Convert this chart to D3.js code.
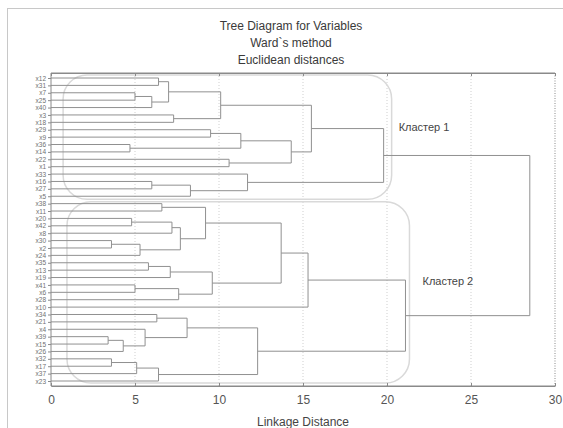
<!DOCTYPE html>
<html>
<head>
<meta charset="utf-8">
<script src="https://cdn.jsdelivr.net/npm/d3@7"></script>
<style>
  body { margin: 0; background: #fff; }
  text { font-family: "Liberation Sans", Arial, sans-serif; }
</style>
</head>
<body>
<div id="chart"></div>
<script>
// chart data
let titleLines = ["Tree Diagram for  Variables", "Ward`s method", "Euclidean distances"];
let xTicks = [0, 5, 10, 15, 20, 25, 30];
let xLabel = "Linkage Distance";
let clusterNames = ["Кластер 1", "Кластер 2"];

// leaves, top to bottom
let leafNames = [
    "x12", "x31", "x7", "x25", "x40", "x3", "x18", "x29", "x9", "x36", "x14",
    "x22", "x1", "x33", "x16", "x27", "x5", "x38", "x11", "x20", "x42", "x8",
    "x30", "x2", "x24", "x35", "x13", "x19", "x41", "x6", "x28", "x10", "x34",
    "x21", "x4", "x39", "x15", "x26", "x32", "x17", "x37", "x23"
];

// merges: [left, right, linkage distance]; index >= 42 points to merge (index - 42)
let merges = [
    [0, 1, 6.4], [2, 3, 5.0], [43, 4, 6.0], [42, 44, 7.0], [5, 6, 7.3],
    [45, 46, 10.1], [7, 8, 9.5], [9, 10, 4.7], [48, 49, 11.3], [11, 12, 10.6],
    [50, 51, 14.3], [47, 52, 15.5], [14, 15, 6.0], [54, 16, 8.3], [13, 55, 11.7],
    [53, 56, 19.8],
    [17, 18, 6.6], [19, 20, 4.8], [59, 21, 7.2], [22, 23, 3.6], [61, 24, 5.3],
    [60, 62, 7.7], [58, 63, 9.2], [25, 26, 5.8], [65, 27, 7.1], [28, 29, 5.0],
    [67, 30, 7.6], [66, 68, 9.6], [64, 69, 13.7], [70, 31, 15.3], [32, 33, 6.3],
    [35, 36, 3.4], [73, 37, 4.3], [34, 74, 5.6], [72, 75, 8.1], [38, 39, 3.6],
    [77, 40, 5.1], [78, 41, 6.4], [76, 79, 12.3], [71, 80, 21.1],
    [57, 81, 28.5]
];

let svgWidth = 563;
let svgHeight = 428;
let plot = { left: 51, right: 555, top: 73, bottom: 386 };

let svg = d3.select("#chart")
    .append("svg")
    .attr("width", svgWidth)
    .attr("height", svgHeight);

// outer frame
svg.append("rect")
    .attr("x", 7.5).attr("y", 8.5)
    .attr("width", 600).attr("height", 500)
    .attr("fill", "none")
    .attr("stroke", "#c8c8c8");

// build the tree
let nodes = leafNames.map(n => ({ name: n, height: 0 }));
merges.forEach((m, i) => {
    nodes.push({ name: "m" + i, height: m[2], children: [nodes[m[0]], nodes[m[1]]] });
});
let root = d3.hierarchy(nodes[nodes.length - 1]);

let xScale = d3.scaleLinear().domain([0, 30]).range([plot.left, plot.right]);
let yScale = d3.scalePoint()
    .domain(root.leaves().map(d => d.data.name))
    .range([78, 381]);

root.eachAfter(d => {
    d.px = xScale(d.data.height);
    d.py = d.children ? (d.children[0].py + d.children[1].py) / 2 : yScale(d.data.name);
});

// grid
svg.append("g").selectAll("line")
    .data(xTicks.slice(1, -1))
    .enter()
    .append("line")
    .attr("x1", d => xScale(d)).attr("x2", d => xScale(d))
    .attr("y1", plot.top).attr("y2", plot.bottom)
    .attr("stroke", "#cfcfcf")
    .attr("stroke-dasharray", "1,2");

// cluster outlines
let clusters = root.children;
let boxPad = [{ l: 0.72, r: 8, t: 3, b: 3 }, { l: 0.95, r: 4, t: 2, b: 2 }];
clusters.forEach((c, i) => {
    let lv = c.leaves();
    let x0 = xScale(boxPad[i].l);
    let x1 = c.px + boxPad[i].r;
    let y0 = lv[0].py - boxPad[i].t;
    let y1 = lv[lv.length - 1].py + boxPad[i].b;
    svg.append("rect")
        .attr("x", x0).attr("y", y0)
        .attr("width", x1 - x0).attr("height", y1 - y0)
        .attr("rx", 24).attr("ry", 24)
        .attr("fill", "none")
        .attr("stroke", "#d9d9d9")
        .attr("stroke-width", 1.5);
});

// dendrogram links
let linkGroup = svg.append("g")
    .attr("fill", "none")
    .attr("stroke", "#909090")
    .attr("stroke-width", 1);

root.descendants().filter(d => d.children).forEach(d => {
    let a = d.children[0], b = d.children[1];
    linkGroup.append("path")
        .attr("d", `M${a.px},${a.py}H${d.px}V${b.py}H${b.px}`);
});

// axes
let bottomAxis = d3.axisBottom(xScale).tickValues(xTicks).tickSizeInner(-3).tickSizeOuter(0).tickPadding(9);
let topAxis = d3.axisTop(xScale).tickValues(xTicks).tickSizeInner(-3).tickSizeOuter(0).tickFormat("");
let leftAxis = d3.axisLeft(yScale).tickSizeInner(3).tickSizeOuter(0).tickPadding(2);

let xaxis = svg.append("g")
    .attr("transform", `translate(0, ${plot.bottom})`)
    .call(bottomAxis);
xaxis.selectAll("text").attr("font-size", "12px").attr("fill", "#555");

svg.append("g")
    .attr("transform", `translate(0, ${plot.top})`)
    .call(topAxis);

let yaxis = svg.append("g")
    .attr("transform", `translate(${plot.left}, 0)`)
    .call(leftAxis);
yaxis.selectAll("text").attr("font-size", "6.5px").attr("fill", "#707070");
yaxis.select(".domain").remove();

svg.selectAll(".domain").attr("stroke", "#8a8a8a");
svg.selectAll(".tick line").attr("stroke", "#8a8a8a");

// plot frame
svg.append("path")
    .attr("d", `M${plot.right},${plot.top}H${plot.left}V${plot.bottom}H${plot.right}`)
    .attr("fill", "none")
    .attr("stroke", "#8a8a8a");
svg.append("line")
    .attr("x1", plot.right).attr("x2", plot.right)
    .attr("y1", plot.top).attr("y2", plot.bottom)
    .attr("stroke", "#8a8a8a")
    .attr("stroke-dasharray", "1,1.5");

// titles
svg.selectAll(".title")
    .data(titleLines)
    .enter()
    .append("text")
    .attr("class", "title")
    .attr("x", 291)
    .attr("y", (d, i) => 30 + i * 17)
    .attr("text-anchor", "middle")
    .attr("font-size", "12px")
    .attr("fill", "#3a3a3a")
    .text(d => d);

svg.append("text")
    .attr("x", (plot.left + plot.right) / 2)
    .attr("y", 426)
    .attr("text-anchor", "middle")
    .attr("font-size", "12px")
    .attr("fill", "#444")
    .text(xLabel);

// cluster labels
let labelPos = [{ dx: 15, y: 131 }, { dx: 17, y: 285 }];
clusters.forEach((c, i) => {
    svg.append("text")
        .attr("x", c.px + labelPos[i].dx)
        .attr("y", labelPos[i].y)
        .attr("font-size", "11px")
        .attr("fill", "#444")
        .text(clusterNames[i]);
});
</script>
</body>
</html>
